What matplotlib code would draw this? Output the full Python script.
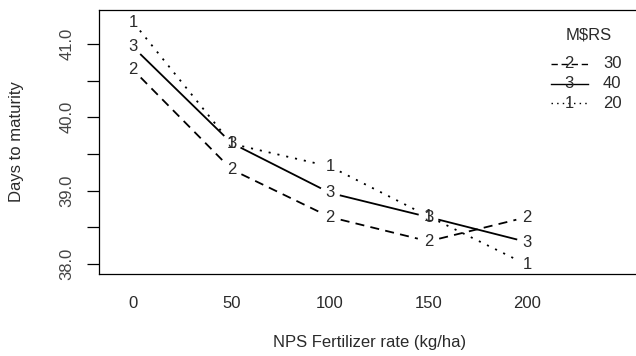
import numpy as np
import matplotlib.pyplot as plt

plt.rcParams['font.family'] = ['Liberation Sans', 'DejaVu Sans']
plt.rcParams['lines.scale_dashes'] = False

# livelli di concime NPS (asse x) e livelli di M$RS (tracce)
nps_levels = ['0', '50', '100', '150', '200']
rs_levels = ['20', '30', '40']

# giorni alla maturazione, una lista per ogni livello di M$RS
days_rs20 = [41.30, 39.64, 39.33, 38.65, 37.99]
days_rs30 = [40.65, 39.29, 38.64, 38.31, 38.64]
days_rs40 = [40.96, 39.65, 38.97, 38.64, 38.30]

series = [days_rs20, days_rs30, days_rs40]
symbols = ['1', '2', '3']
# stile come in R: 20 punteggiato, 30 tratteggiato, 40 continuo
dashes = [(1.5, 5.0), (6.5, 4.5), None]

text_col = '#2a2a2a'
fs = 12
fig = plt.figure(figsize=(6.36, 3.56), dpi=100)
ax = fig.add_axes([99 / 636, 82 / 356, 541 / 636, 264 / 356])
x = np.arange(len(nps_levels))
ax.set_xlim(-0.345, 5.147)
ax.set_ylim(37.864, 41.464)

# linee tipo "b": interrotte attorno al numero di ogni punto
gap = 11
for vals, sym, ds in zip(series, symbols, dashes):
    pts = ax.transData.transform(np.column_stack([x, vals]))
    for p0, p1 in zip(pts[:-1], pts[1:]):
        d = p1 - p0
        lung = np.hypot(*d)
        if lung <= 2 * gap:
            continue
        u = d / lung
        seg = ax.transData.inverted().transform(np.array([p0 + u * gap, p1 - u * gap]))
        line, = ax.plot(seg[:, 0], seg[:, 1], color='black', lw=1.3)
        if ds:
            line.set_dashes(ds)
    for xi, v in zip(x, vals):
        ax.text(xi, v, sym, ha='center', va='center', fontsize=fs, color=text_col)

# assi
yt = np.arange(38.0, 41.01, 0.5)
ax.set_yticks(yt, [f'{t:.1f}' if float(t).is_integer() else '' for t in yt],
              rotation=90, va='center')
ax.set_xticks(x, nps_levels)
ax.tick_params(axis='y', length=8.6, width=0.9, pad=9, labelsize=fs, labelcolor='#444444')
ax.tick_params(axis='x', length=0, pad=16, labelsize=fs, labelcolor=text_col)
ax.spines['right'].set_visible(False)
for s in ['left', 'top', 'bottom']:
    ax.spines[s].set_linewidth(0.9)

ax.set_xlabel('NPS Fertilizer rate (kg/ha)', fontsize=fs, color=text_col)
ax.xaxis.set_label_coords(0.5, (274 - 343) / 264)
ax.xaxis.label.set_va('center')
ax.set_ylabel('Days to maturity', fontsize=fs, color=text_col)
ax.yaxis.set_label_coords((17 - 99) / 541, 0.5)
ax.yaxis.label.set_va('center')

# legenda ordinata per valore finale, come interaction.plot
ordine = sorted(range(len(series)), key=lambda i: series[i][-1], reverse=True)
ax.text((589 - 99) / 541, (274 - 35) / 264, 'M$RS', transform=ax.transAxes,
        ha='center', va='center', fontsize=fs, color=text_col)
for k, i in enumerate(ordine):
    ay = (274 - (64 + 19.5 * k)) / 264
    line, = ax.plot([(551 - 99) / 541, (588 - 99) / 541], [ay, ay], transform=ax.transAxes,
                    color='black', lw=1.0, clip_on=False)
    if dashes[i]:
        line.set_dashes((dashes[i][0] * 0.7, dashes[i][1] * 0.6))
    ax.text((569 - 99) / 541, ay, symbols[i], transform=ax.transAxes,
            ha='center', va='center', fontsize=fs, color=text_col)
    ax.text((603 - 99) / 541, ay, rs_levels[i], transform=ax.transAxes,
            ha='left', va='center', fontsize=fs, color=text_col)

fig.savefig('out.png', dpi=100)
